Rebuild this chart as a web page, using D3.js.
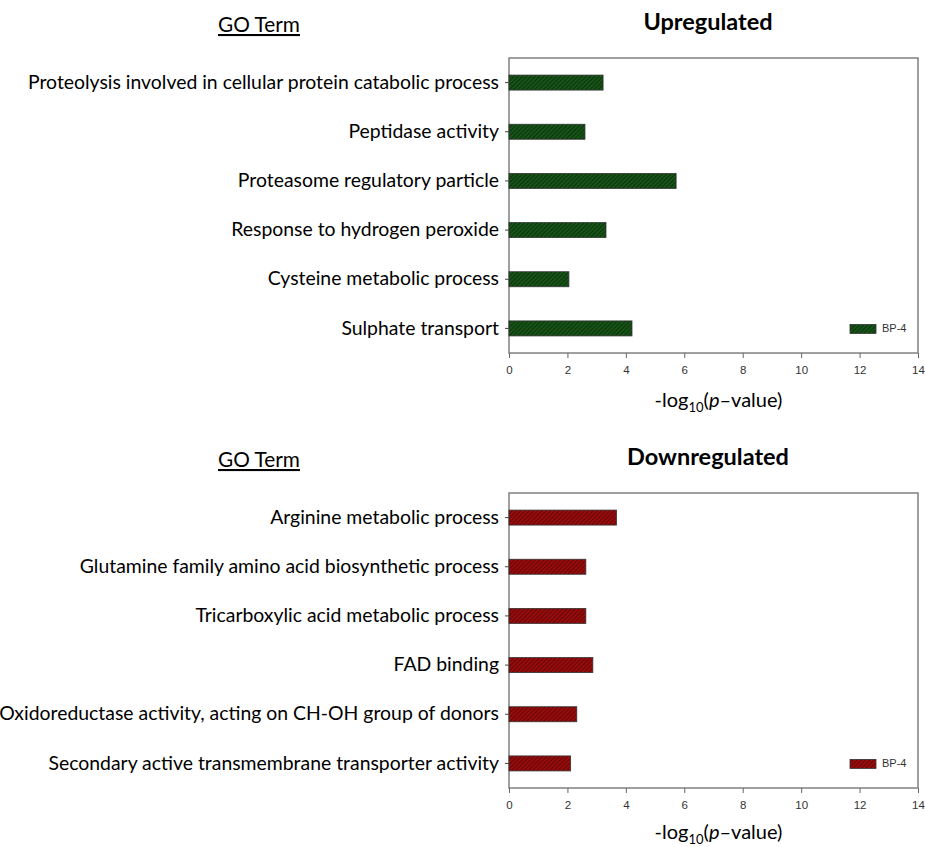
<!DOCTYPE html>
<html>
<head>
<meta charset="utf-8">
<script src="https://cdn.jsdelivr.net/npm/d3@7"></script>
<style>
  body { margin: 0; background: #fff; }
  svg { display: block; }
</style>
</head>
<body>
<div id="chart"></div>
<script>
// data
var upTerms = [
  "Proteolysis involved in cellular protein catabolic process",
  "Peptidase activity",
  "Proteasome regulatory particle",
  "Response to hydrogen peroxide",
  "Cysteine metabolic process",
  "Sulphate transport"
];
var upValues = [3.22, 2.6, 5.72, 3.32, 2.05, 4.21];

var downTerms = [
  "Arginine metabolic process",
  "Glutamine family amino acid biosynthetic process",
  "Tricarboxylic acid metabolic process",
  "FAD binding",
  "Oxidoreductase activity, acting on CH-OH group of donors",
  "Secondary active transmembrane transporter activity"
];
var downValues = [3.68, 2.63, 2.63, 2.87, 2.32, 2.11];

var xTicks = [0, 2, 4, 6, 8, 10, 12, 14];
var seriesName = "BP-4";

var W = 925, H = 847;
var svg = d3.select("#chart").append("svg").attr("width", W).attr("height", H);

// hatch patterns
var defs = svg.append("defs");
function hatch(id, base, line) {
  var p = defs.append("pattern")
    .attr("id", id)
    .attr("patternUnits", "userSpaceOnUse")
    .attr("width", 3).attr("height", 3)
    .attr("patternTransform", "rotate(45)");
  p.append("rect").attr("width", 3).attr("height", 3).attr("fill", base);
  p.append("line").attr("x1", 0).attr("y1", 0).attr("x2", 0).attr("y2", 3)
    .attr("stroke", line).attr("stroke-width", 1.3);
}
hatch("hGreen", "#175417", "#052005");
hatch("hRed", "#9a0c0c", "#420303");

var labelFont = "Lato, 'Open Sans', sans-serif";

function panel(terms, values, top, title, fill, titleOff) {
  var left = 509, right = 918, bottom = top + 295;
  var x = d3.scaleLinear().domain([0, 14]).range([left, right]);
  var y = d3.scaleBand().domain(terms).range([top, bottom]).padding(0);
  var g = svg.append("g");

  // frame
  g.append("rect")
    .attr("x", left).attr("y", top)
    .attr("width", right - left).attr("height", bottom - top)
    .attr("fill", "none").attr("stroke", "#808080").attr("stroke-width", 1.5);

  // bars
  g.selectAll("rect.bar")
    .data(terms)
    .enter()
    .append("rect")
    .attr("class", "bar")
    .attr("x", x(0))
    .attr("y", function (d) { return y(d) + y.bandwidth() / 2 - 7.5; })
    .attr("width", function (d, i) { return x(values[i]) - x(0); })
    .attr("height", 15)
    .attr("fill", fill)
    .attr("stroke", "#333")
    .attr("stroke-width", 0.8);

  // y axis
  var yAxis = g.append("g")
    .attr("transform", "translate(" + left + ",0)")
    .call(d3.axisLeft(y).tickSize(4).tickPadding(6));
  yAxis.select(".domain").remove();
  yAxis.selectAll(".tick line").attr("stroke", "#444");
  yAxis.selectAll("text")
    .attr("font-family", labelFont)
    .attr("font-size", 19.4)
    .attr("fill", "#000");

  // x axis
  var xAxis = g.append("g")
    .attr("transform", "translate(0," + bottom + ")")
    .call(d3.axisBottom(x).tickValues(xTicks).tickSize(5).tickPadding(8));
  xAxis.select(".domain").remove();
  xAxis.selectAll(".tick line").attr("stroke", "#666");
  xAxis.selectAll("text")
    .attr("font-family", "'Liberation Sans', Arial, sans-serif")
    .attr("font-size", 11.5)
    .attr("fill", "#333");

  // x title
  var xt = g.append("text")
    .attr("x", (left + right) / 2 + 5)
    .attr("y", bottom + titleOff)
    .attr("text-anchor", "middle")
    .attr("font-family", labelFont)
    .attr("font-size", 20)
    .attr("fill", "#000");
  xt.append("tspan").text("-log");
  xt.append("tspan").attr("font-size", 13).attr("dy", 5).text("10");
  xt.append("tspan").attr("dy", -5).text("(");
  xt.append("tspan").attr("font-style", "italic").text("p");
  xt.append("tspan").text("\u2013value)");

  // titles
  g.append("text")
    .attr("x", 708).attr("y", top - 28)
    .attr("text-anchor", "middle")
    .attr("font-family", labelFont)
    .attr("font-weight", "bold")
    .attr("font-size", 23.5)
    .text(title);
  g.append("text")
    .attr("x", 218).attr("y", top - 26)
    .attr("font-family", labelFont)
    .attr("font-size", 20.8)
    .attr("text-decoration", "underline")
    .text("GO Term");

  // legend
  var ly = y(terms[terms.length - 1]) + y.bandwidth() / 2;
  g.append("rect")
    .attr("x", 850).attr("y", ly - 4)
    .attr("width", 26).attr("height", 9)
    .attr("fill", fill).attr("stroke", "#333").attr("stroke-width", 0.8);
  g.append("text")
    .attr("x", 882).attr("y", ly + 4)
    .attr("font-family", "'Liberation Sans', Arial, sans-serif")
    .attr("font-size", 11)
    .attr("fill", "#333")
    .text(seriesName);
}

panel(upTerms, upValues, 58, "Upregulated", "url(#hGreen)", 54);
panel(downTerms, downValues, 493, "Downregulated", "url(#hRed)", 51);
</script>
</body>
</html>
